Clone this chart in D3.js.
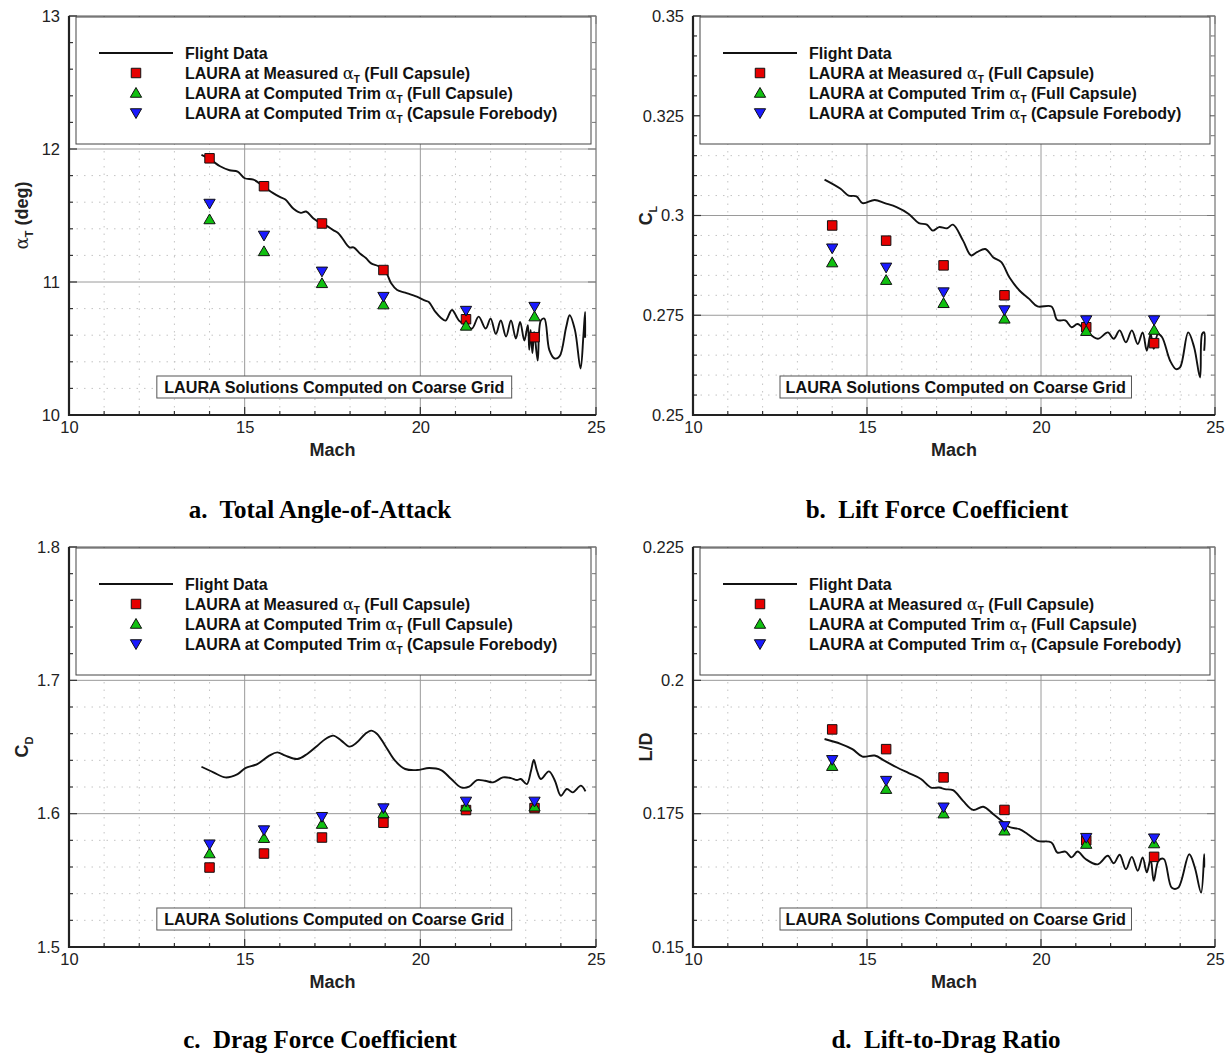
<!DOCTYPE html>
<html>
<head>
<meta charset="utf-8">
<script src="https://cdn.jsdelivr.net/npm/d3@7"></script>
<style>
  body { margin: 0; background: #fff; }
  text { white-space: pre; }
</style>
</head>
<body>
<script>
// CFD solution Mach numbers (shared by all four panels)
var machCfd = [14.0, 15.55, 17.2, 18.95, 21.3, 23.25];

// a. total angle of attack (deg)
var alphaMeasured = [11.93, 11.72, 11.44, 11.09, 10.72, 10.585];
var alphaTrimFull = [11.47, 11.23, 10.99, 10.83, 10.67, 10.74];
var alphaTrimFore = [11.59, 11.35, 11.08, 10.89, 10.785, 10.815];
var flightAlpha = [[13.77, 11.955], [14.0, 11.925], [14.3, 11.87], [14.57, 11.84], [14.8, 11.83], [15.0, 11.78],
  [15.25, 11.77], [15.53, 11.72], [15.8, 11.67], [16.0, 11.64], [16.16, 11.62], [16.39, 11.55], [16.6, 11.52],
  [16.75, 11.53], [16.95, 11.48], [17.18, 11.44], [17.35, 11.42], [17.52, 11.39], [17.65, 11.37], [17.75, 11.34],
  [17.98, 11.26], [18.1, 11.26], [18.3, 11.21], [18.45, 11.18], [18.6, 11.14], [18.8, 11.12], [18.95, 11.09],
  [19.05, 11.06], [19.17, 10.99], [19.34, 10.94], [19.57, 10.92], [19.9, 10.89], [20.14, 10.86], [20.24, 10.85],
  [20.43, 10.775], [20.59, 10.73], [20.72, 10.71], [20.9, 10.79], [21.1, 10.71], [21.3, 10.675], [21.47, 10.65],
  [21.66, 10.74], [21.86, 10.65], [22.0, 10.725], [22.15, 10.61], [22.29, 10.71], [22.44, 10.59], [22.58, 10.71],
  [22.72, 10.575], [22.84, 10.70], [22.96, 10.56], [23.06, 10.675], [23.1, 10.49], [23.14, 10.64], [23.19, 10.465],
  [23.24, 10.625], [23.34, 10.41], [23.43, 10.71], [23.53, 10.725], [23.67, 10.49], [23.82, 10.425], [23.96, 10.44],
  [24.15, 10.66], [24.25, 10.75], [24.4, 10.64], [24.56, 10.35], [24.64, 10.59], [24.69, 10.775], [24.69, 10.58]];

// b. lift coefficient
var clMeasured = [0.2975, 0.2937, 0.2875, 0.28, 0.272, 0.268];
var clTrimFull = [0.2882, 0.2838, 0.278, 0.2741, 0.271, 0.2713];
var clTrimFore = [0.2918, 0.287, 0.2808, 0.2763, 0.2738, 0.2738];
var flightCl = [[13.78, 0.309], [14.24, 0.3067], [14.47, 0.305], [14.7, 0.3048], [14.87, 0.3031], [15.22, 0.3039],
  [15.51, 0.3031], [15.85, 0.3021], [16.2, 0.3004], [16.49, 0.2981], [16.72, 0.2977], [16.89, 0.2962],
  [17.07, 0.2971], [17.3, 0.2968], [17.47, 0.2977], [17.76, 0.2937], [17.99, 0.29], [18.16, 0.2908],
  [18.4, 0.2916], [18.63, 0.2895], [18.86, 0.2883], [19.09, 0.2845], [19.38, 0.2812], [19.66, 0.2791],
  [19.9, 0.2772], [20.3, 0.2772], [20.47, 0.2738], [20.7, 0.2737], [20.88, 0.272], [21.05, 0.2728],
  [21.28, 0.2712], [21.63, 0.2691], [21.92, 0.2707], [22.09, 0.2691], [22.26, 0.2712], [22.44, 0.2682],
  [22.61, 0.2712], [22.78, 0.2678], [22.92, 0.2707], [23.04, 0.2661], [23.15, 0.2703], [23.24, 0.2666],
  [23.36, 0.2703], [23.48, 0.2695], [23.71, 0.2636], [23.88, 0.2615], [24.0, 0.262], [24.23, 0.2707],
  [24.4, 0.267], [24.57, 0.2594], [24.63, 0.2703], [24.69, 0.2707], [24.69, 0.2661]];

// c. drag coefficient
var cdMeasured = [1.5596, 1.5701, 1.5821, 1.5932, 1.6027, 1.6042];
var cdTrimFull = [1.5701, 1.5816, 1.5922, 1.6002, 1.6052, 1.6052];
var cdTrimFore = [1.5771, 1.5877, 1.5977, 1.6042, 1.6092, 1.6092];
var flightCd = [[13.77, 1.6352], [14.11, 1.631], [14.45, 1.6272], [14.8, 1.6297], [15.02, 1.6342], [15.36, 1.6372],
  [15.7, 1.6435], [15.93, 1.646], [16.16, 1.6435], [16.5, 1.641], [16.78, 1.6448], [17.07, 1.651], [17.3, 1.656],
  [17.52, 1.6585], [17.75, 1.6548], [17.98, 1.6503], [18.2, 1.6535], [18.43, 1.6598], [18.6, 1.6623],
  [18.77, 1.6598], [19.0, 1.651], [19.28, 1.6397], [19.57, 1.6335], [19.9, 1.6327], [20.25, 1.6342],
  [20.59, 1.6327], [20.88, 1.626], [21.16, 1.6197], [21.39, 1.6202], [21.61, 1.6252], [21.84, 1.6247],
  [22.07, 1.6235], [22.35, 1.6272], [22.58, 1.6267], [22.75, 1.6252], [22.86, 1.626], [23.03, 1.6222],
  [23.15, 1.6322], [23.23, 1.6402], [23.32, 1.6322], [23.43, 1.626], [23.66, 1.6317], [23.83, 1.6247],
  [24.0, 1.6134], [24.17, 1.6185], [24.34, 1.616], [24.57, 1.621], [24.7, 1.6167]];

// d. lift-to-drag ratio
var ldMeasured = [0.1908, 0.1871, 0.1818, 0.1757, 0.17, 0.1669];
var ldTrimFull = [0.1839, 0.1796, 0.175, 0.1718, 0.1693, 0.1694];
var ldTrimFore = [0.1851, 0.1812, 0.1762, 0.1727, 0.1705, 0.1704];
var flightLd = [[13.78, 0.189], [14.24, 0.1881], [14.58, 0.1871], [14.87, 0.1857], [15.22, 0.1859], [15.51, 0.1849],
  [15.85, 0.1837], [16.2, 0.1826], [16.55, 0.1815], [16.84, 0.1799], [17.07, 0.1799], [17.24, 0.1796],
  [17.47, 0.1794], [17.76, 0.1774], [18.05, 0.1757], [18.34, 0.1763], [18.63, 0.1749], [18.86, 0.1737],
  [19.09, 0.1725], [19.38, 0.1721], [19.61, 0.1712], [19.9, 0.1699], [20.3, 0.1696], [20.47, 0.1677],
  [20.7, 0.1679], [20.88, 0.1668], [21.05, 0.1679], [21.28, 0.1665], [21.63, 0.1655], [21.92, 0.1671],
  [22.09, 0.1657], [22.26, 0.1673], [22.44, 0.1646], [22.61, 0.1669], [22.78, 0.1643], [22.92, 0.1668],
  [23.04, 0.164], [23.15, 0.1665], [23.24, 0.1624], [23.38, 0.1662], [23.53, 0.1665], [23.76, 0.1611],
  [23.94, 0.1611], [24.26, 0.1674], [24.42, 0.1649], [24.6, 0.1602], [24.69, 0.1674], [24.69, 0.1649]];

// tick labels
var machTicks = [10, 15, 20, 25];
var alphaTicks = [10, 11, 12, 13];
var clTicks = [0.25, 0.275, 0.3, 0.325, 0.35];
var cdTicks = [1.5, 1.6, 1.7, 1.8];
var ldTicks = [0.15, 0.175, 0.2, 0.225];

var legendLabels = [
  ["Flight Data"],
  ["LAURA at Measured ", " (Full Capsule)"],
  ["LAURA at Computed Trim ", " (Full Capsule)"],
  ["LAURA at Computed Trim ", " (Capsule Forebody)"]
];

var RED = "#e60000", GREEN = "#10c010", BLUE = "#1a1aff";

var svg = d3.select("body").append("svg")
  .attr("width", 1231)
  .attr("height", 1053)
  .style("font-family", "'Liberation Sans', Arial, sans-serif");

svg.append("rect").attr("width", 1231).attr("height", 1053).attr("fill", "#fff");

var symSquare = d3.symbol().type(d3.symbolSquare).size(90);
var symTri = d3.symbol().type(d3.symbolTriangle).size(55);

function marker(g, kind, cx, cy) {
  if (kind === 0) {
    g.append("path").attr("d", symSquare()).attr("transform", "translate(" + cx + "," + cy + ")")
      .attr("fill", RED).attr("stroke", "#111").attr("stroke-width", 1);
  } else if (kind === 1) {
    g.append("path").attr("d", symTri()).attr("transform", "translate(" + cx + "," + (cy + 1) + ")")
      .attr("fill", GREEN).attr("stroke", "#111").attr("stroke-width", 1);
  } else {
    g.append("path").attr("d", symTri()).attr("transform", "translate(" + cx + "," + (cy - 1) + ") rotate(180)")
      .attr("fill", BLUE).attr("stroke", "#111").attr("stroke-width", 1);
  }
}

function drawPanel(p) {
  var x = d3.scaleLinear().domain([10, 25]).range([p.left, p.right]);
  var y = d3.scaleLinear().domain(p.yDomain).range([p.bottom, p.top]);
  var g = svg.append("g");

  var lo = p.yDomain[0], hi = p.yDomain[1];
  var nMinor = Math.round((hi - lo) / p.minorStep);
  var yMinorAll = d3.range(0, nMinor + 1).map(function(i) { return lo + i * p.minorStep; });
  var isMajorY = function(v) { return p.yTicks.some(function(t) { return Math.abs(t - v) < p.minorStep / 10; }); };
  var yMinor = yMinorAll.filter(function(v) { return !isMajorY(v); });
  var xMinorAll = d3.range(10, 26, 1);
  var xMinor = xMinorAll.filter(function(v) { return v % 5 !== 0; });

  // dotted minor grid
  g.selectAll(".gxm").data(xMinor).enter().append("line")
    .attr("x1", function(d) { return x(d); }).attr("x2", function(d) { return x(d); })
    .attr("y1", p.top).attr("y2", p.bottom)
    .attr("stroke", "#c4c4c4").attr("stroke-dasharray", "1.5,6");
  g.selectAll(".gym").data(yMinor).enter().append("line")
    .attr("y1", function(d) { return y(d); }).attr("y2", function(d) { return y(d); })
    .attr("x1", p.left).attr("x2", p.right)
    .attr("stroke", "#c4c4c4").attr("stroke-dasharray", "1.5,6");
  // solid major grid
  g.selectAll(".gx").data(machTicks).enter().append("line")
    .attr("x1", function(d) { return x(d); }).attr("x2", function(d) { return x(d); })
    .attr("y1", p.top).attr("y2", p.bottom)
    .attr("stroke", "#9a9a9a").attr("stroke-width", 1);
  g.selectAll(".gy").data(p.yTicks).enter().append("line")
    .attr("y1", function(d) { return y(d); }).attr("y2", function(d) { return y(d); })
    .attr("x1", p.left).attr("x2", p.right)
    .attr("stroke", "#9a9a9a").attr("stroke-width", 1);

  // frame
  g.append("rect").attr("x", p.left).attr("y", p.top)
    .attr("width", p.right - p.left).attr("height", p.bottom - p.top)
    .attr("fill", "none").attr("stroke", "#888").attr("stroke-width", 1);

  // inward tick marks on all four sides
  yMinorAll.forEach(function(v) {
    var len = isMajorY(v) ? 8 : 4;
    g.append("line").attr("x1", p.left).attr("x2", p.left + len).attr("y1", y(v)).attr("y2", y(v))
      .attr("stroke", "#333").attr("stroke-width", 1.2);
    g.append("line").attr("x1", p.right).attr("x2", p.right - len).attr("y1", y(v)).attr("y2", y(v))
      .attr("stroke", "#777").attr("stroke-width", 1);
  });
  xMinorAll.forEach(function(v) {
    var len = v % 5 === 0 ? 8 : 4;
    g.append("line").attr("x1", x(v)).attr("x2", x(v)).attr("y1", p.bottom).attr("y2", p.bottom - len)
      .attr("stroke", "#333").attr("stroke-width", 1.2);
    g.append("line").attr("x1", x(v)).attr("x2", x(v)).attr("y1", p.top).attr("y2", p.top + len)
      .attr("stroke", "#777").attr("stroke-width", 1);
  });

  // heavy left and bottom axis lines
  g.append("path")
    .attr("d", "M" + p.left + "," + p.top + "V" + p.bottom + "H" + p.right)
    .attr("fill", "none").attr("stroke", "#222").attr("stroke-width", 2.2);

  // tick labels via d3 axes
  var ax = g.append("g").attr("transform", "translate(0," + p.bottom + ")")
    .call(d3.axisBottom(x).tickValues(machTicks).tickSize(0).tickPadding(6).tickFormat(d3.format("d")));
  ax.select(".domain").remove();
  ax.selectAll("text").attr("font-size", 16.5).attr("fill", "#222").attr("font-family", "'Liberation Sans', Arial, sans-serif");

  var ay = g.append("g").attr("transform", "translate(" + p.left + ",0)")
    .call(d3.axisLeft(y).tickValues(p.yTicks).tickSize(0).tickPadding(9).tickFormat(function(d) { return String(d); }));
  ay.select(".domain").remove();
  ay.selectAll("text").attr("font-size", 16.5).attr("fill", "#222").attr("font-family", "'Liberation Sans', Arial, sans-serif");

  // axis titles
  g.append("text").attr("x", (p.left + p.right) / 2).attr("y", p.bottom + 41)
    .attr("text-anchor", "middle").attr("font-size", 18).attr("font-weight", "bold").attr("fill", "#222")
    .text("Mach");

  var yt = g.append("text")
    .attr("transform", "translate(" + (p.left - 41) + "," + ((p.top + p.bottom) / 2) + ") rotate(-90)")
    .attr("text-anchor", "middle").attr("font-size", 18).attr("font-weight", "bold").attr("fill", "#222");
  p.yTitle(yt);

  // flight data line
  var line = d3.line()
    .curve(d3.curveCatmullRom.alpha(0.5))
    .x(function(d) { return x(d[0]); })
    .y(function(d) { return y(d[1]); });
  g.append("path").datum(p.flight)
    .attr("fill", "none").attr("stroke", "#111").attr("stroke-width", 1.9)
    .attr("stroke-linejoin", "round")
    .attr("d", line);

  // LAURA points
  [p.measured, p.trimFull, p.trimFore].forEach(function(series, k) {
    series.forEach(function(v, i) {
      marker(g, k, x(machCfd[i]), y(v));
    });
  });

  // legend box
  var lg = g.append("g");
  lg.append("rect").attr("x", p.left + 7).attr("y", p.top + 1)
    .attr("width", p.right - p.left - 12).attr("height", 127)
    .attr("fill", "#fff").attr("stroke", "#444").attr("stroke-width", 1);
  legendLabels.forEach(function(lab, i) {
    var cy = p.top + 37 + i * 20;
    if (i === 0) {
      lg.append("line").attr("x1", p.left + 30).attr("x2", p.left + 104).attr("y1", cy).attr("y2", cy)
        .attr("stroke", "#111").attr("stroke-width", 1.8);
    } else {
      marker(lg, i - 1, p.left + 67, cy);
    }
    var t = lg.append("text").attr("x", p.left + 116).attr("y", cy + 5.5)
      .attr("font-size", 16).attr("font-weight", "bold").attr("fill", "#111");
    t.append("tspan").text(lab[0]);
    if (lab.length > 1) {
      t.append("tspan").attr("font-family", "'DejaVu Serif', serif").attr("font-weight", "normal")
        .attr("font-size", 16.5).text("\u03b1");
      t.append("tspan").attr("font-size", 10).attr("dy", 4).text("T");
      t.append("tspan").attr("dy", -4).text(lab[1]);
    }
  });

  // note box
  g.append("rect").attr("x", x(12.5)).attr("y", p.bottom - 39)
    .attr("width", x(22.6) - x(12.5)).attr("height", 22)
    .attr("fill", "#fff").attr("stroke", "#555").attr("stroke-width", 1);
  g.append("text").attr("x", x(17.55)).attr("y", p.bottom - 22.5)
    .attr("text-anchor", "middle").attr("font-size", 16.2).attr("font-weight", "bold").attr("fill", "#111")
    .text("LAURA Solutions Computed on Coarse Grid");

  // panel caption
  svg.append("text").attr("x", p.capX).attr("y", p.capY)
    .attr("text-anchor", "middle").attr("font-family", "'Liberation Serif', 'Times New Roman', serif")
    .attr("font-weight", "bold").attr("font-size", 25).attr("fill", "#000")
    .text(p.caption);
}

function subTitle(main, sub) {
  return function(t) {
    t.append("tspan").text(main);
    t.append("tspan").attr("font-size", 11).attr("dy", 5).text(sub);
  };
}

drawPanel({
  left: 69, right: 596, top: 16, bottom: 415,
  yDomain: [10, 13], yTicks: alphaTicks, minorStep: 0.2,
  flight: flightAlpha, measured: alphaMeasured, trimFull: alphaTrimFull, trimFore: alphaTrimFore,
  yTitle: function(t) {
    t.append("tspan").attr("font-family", "'DejaVu Serif', serif").attr("font-weight", "normal").text("\u03b1");
    t.append("tspan").attr("font-size", 11).attr("dy", 5).text("T");
    t.append("tspan").attr("dy", -5).text(" (deg)");
  },
  caption: "a.  Total Angle-of-Attack", capX: 320, capY: 518
});

drawPanel({
  left: 693, right: 1215, top: 16, bottom: 415,
  yDomain: [0.25, 0.35], yTicks: clTicks, minorStep: 0.005,
  flight: flightCl, measured: clMeasured, trimFull: clTrimFull, trimFore: clTrimFore,
  yTitle: subTitle("C", "L"),
  caption: "b.  Lift Force Coefficient", capX: 937, capY: 518
});

drawPanel({
  left: 69, right: 596, top: 547, bottom: 947,
  yDomain: [1.5, 1.8], yTicks: cdTicks, minorStep: 0.02,
  flight: flightCd, measured: cdMeasured, trimFull: cdTrimFull, trimFore: cdTrimFore,
  yTitle: subTitle("C", "D"),
  caption: "c.  Drag Force Coefficient", capX: 320, capY: 1048
});

drawPanel({
  left: 693, right: 1215, top: 547, bottom: 947,
  yDomain: [0.15, 0.225], yTicks: ldTicks, minorStep: 0.005,
  flight: flightLd, measured: ldMeasured, trimFull: ldTrimFull, trimFore: ldTrimFore,
  yTitle: function(t) { t.text("L/D"); },
  caption: "d.  Lift-to-Drag Ratio", capX: 946, capY: 1048
});
</script>
</body>
</html>
